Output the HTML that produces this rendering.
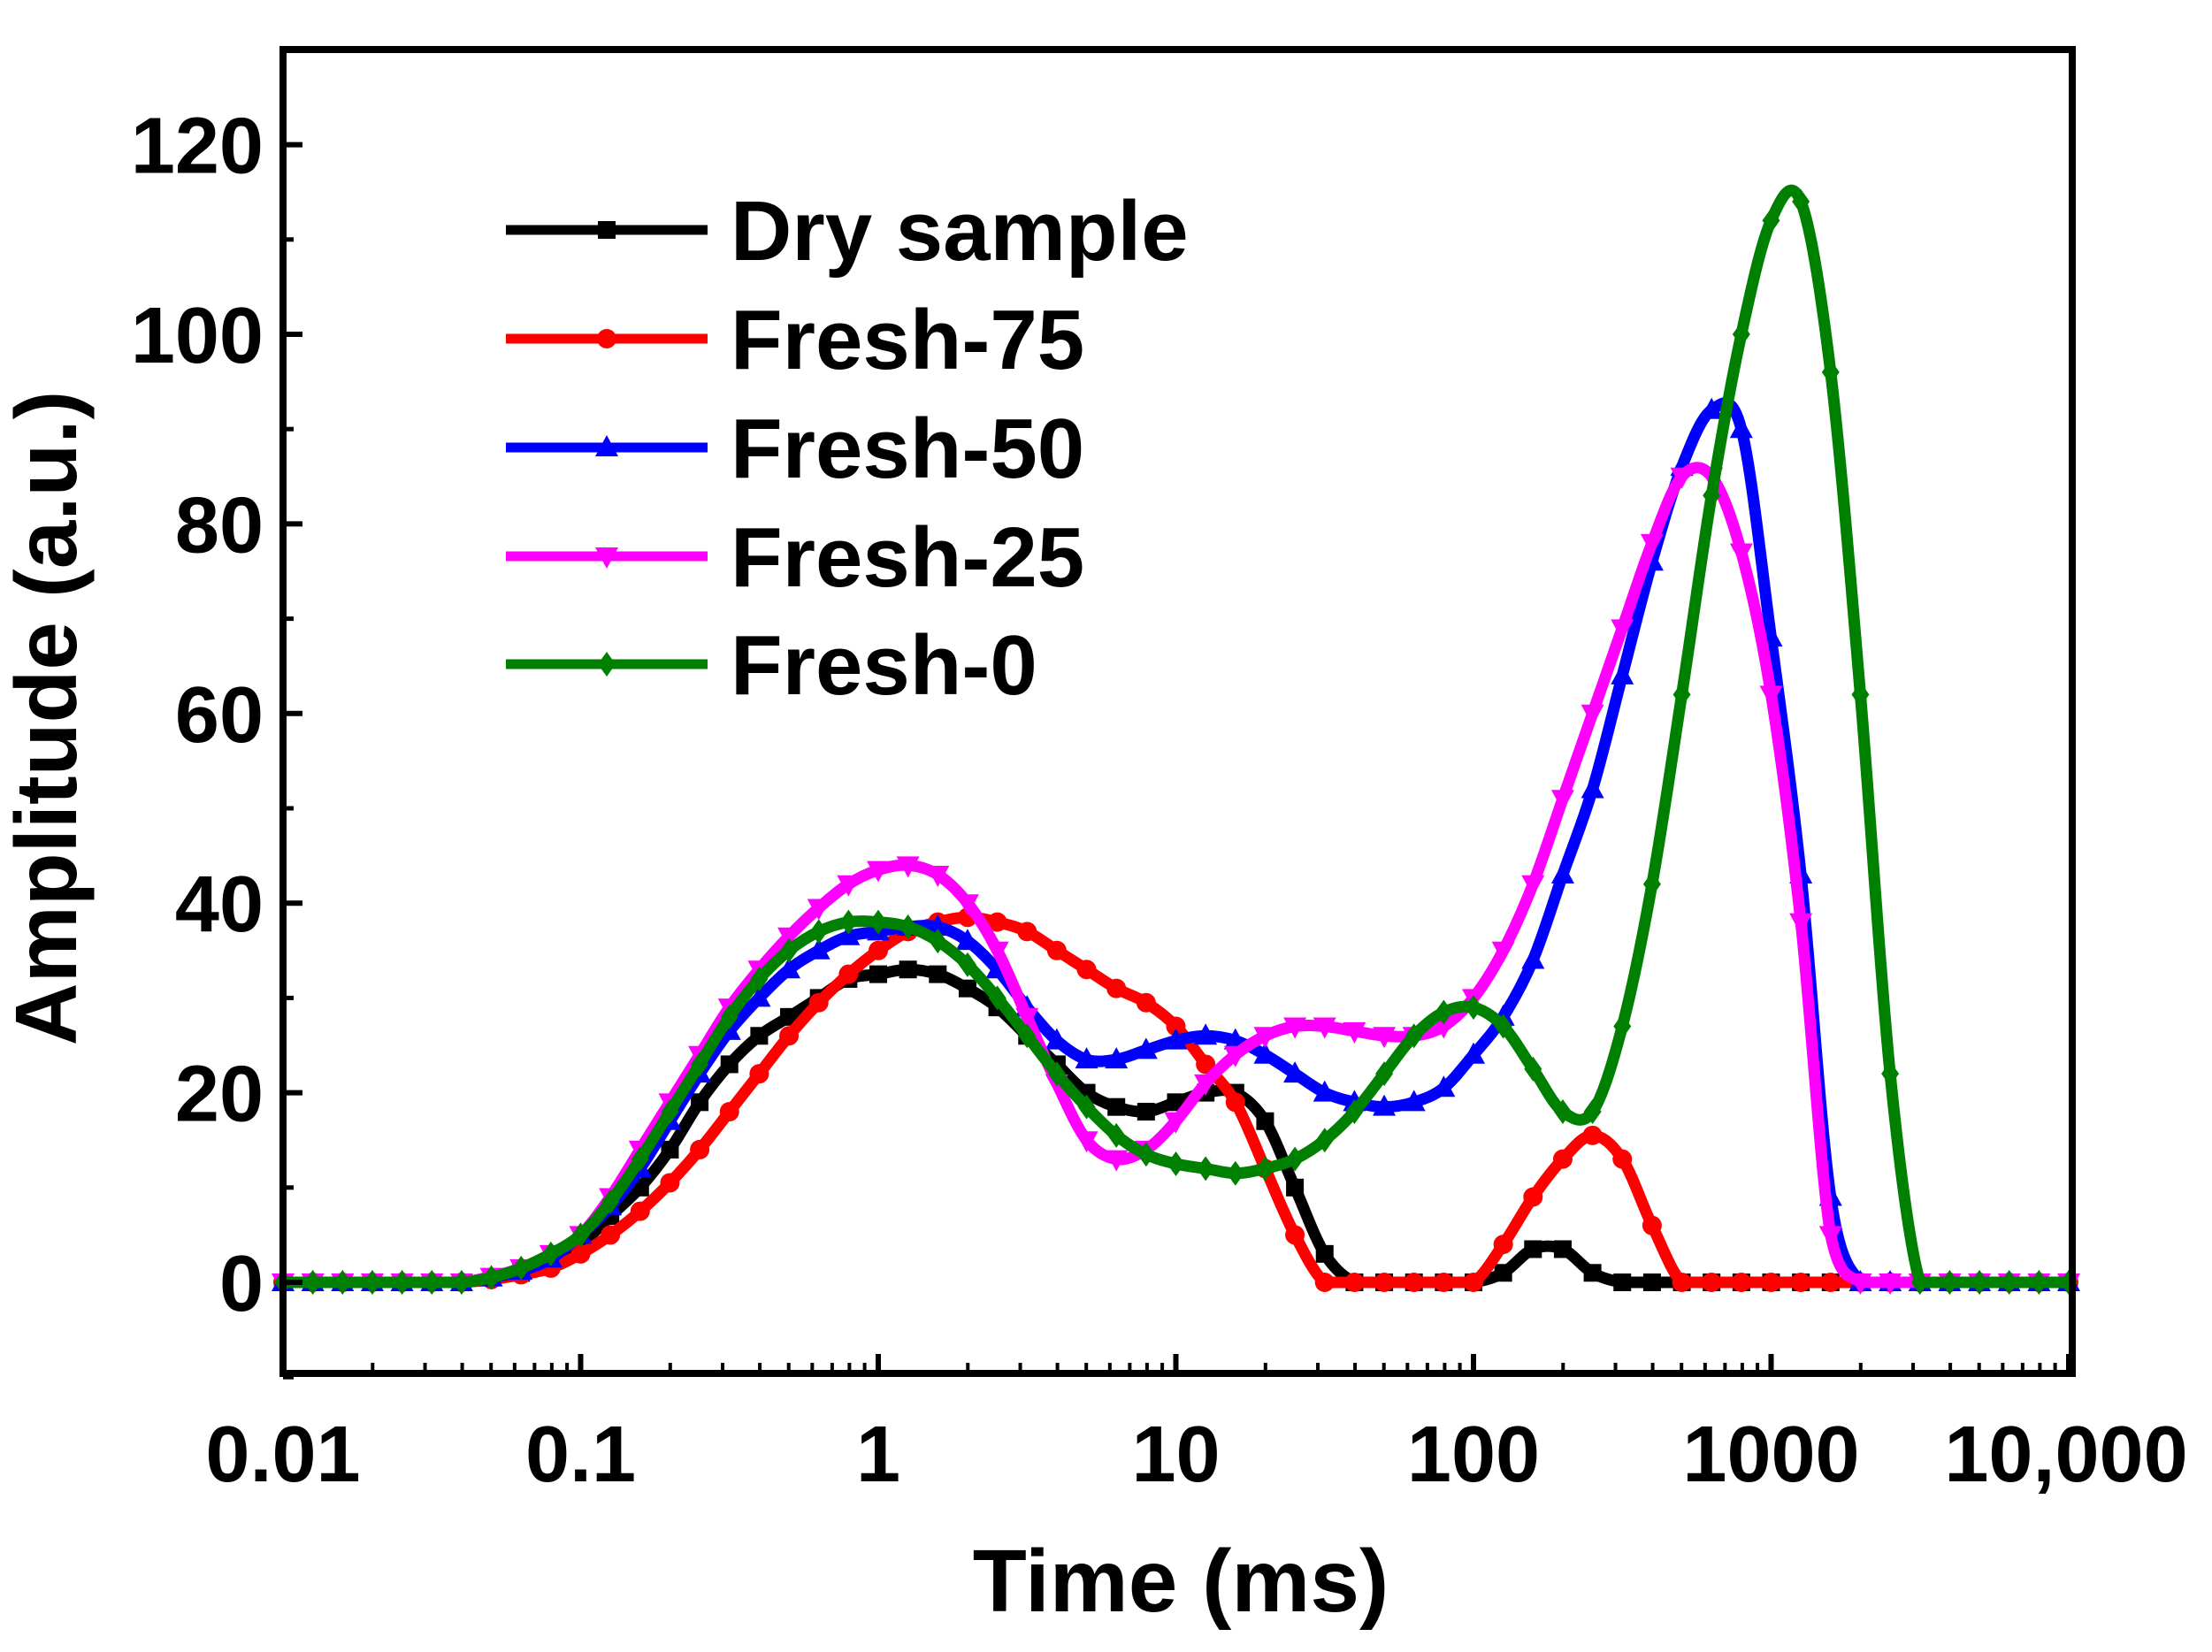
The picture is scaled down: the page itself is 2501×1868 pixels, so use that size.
<!DOCTYPE html>
<html><head><meta charset="utf-8"><style>
html,body{margin:0;padding:0;background:#fff;}
svg{display:block;font-family:"Liberation Sans",Arial,sans-serif;font-weight:bold;}
</style></head><body>
<svg id="chart" width="2501" height="1868" viewBox="0 0 2501 1868" xmlns="http://www.w3.org/2000/svg">
<g id="plot"></g>
<rect x="320" y="56" width="2023" height="1497" fill="none" stroke="#000" stroke-width="8"/>
<g id="axes"></g>
<text x="1335" y="1822" font-size="100" text-anchor="middle">Time (ms)</text>
<text transform="translate(86,812) rotate(-90)" font-size="98" text-anchor="middle">Amplitude (a.u.)</text>
<g id="legend"></g>
</svg>
<script>
const logTimes = [];
for (let i = 0; i <= 60; i++) logTimes.push(-2 + 0.1 * i);
const seriesNames = ["Dry sample","Fresh-75","Fresh-50","Fresh-25","Fresh-0"];
const seriesColors = ["#000000","#ff0000","#0000ff","#ff00ff","#008000"];
const dryValues = [0,0,0,0,0,0,0,0.5,1,2,4,7,10,14,19,23,26,28,30,32,32.5,33,32.5,31,29,26,23,20,18.5,18,19,20,20,17,10,3,0,0,0,0,0,1,3.5,3.5,1,0,0,0,0,0,0,0,0,0,0,0,0,0,0,0,0];
const fresh75Values = [0,0,0,0,0,0,0,0.3,0.8,1.5,3,5,7.5,10.5,14,18,22,26,29.5,32.5,35,37,38,38.5,38,37,35,33,31,29.5,27,23,19,12,5,0,0,0,0,0,0,4,9,13,15.5,13,6,0,0,0,0,0,0,0,0,0,0,0,0,0,0];
const fresh50Values = [0,0,0,0,0,0,0,0.5,1.2,2.5,5,8,12,17,22,26.5,30,33,35,36.5,37,37.5,37.5,36,33,29,25.5,23.5,23.5,24.5,25.5,26,25.5,24,22,20,19,18.5,19,20.5,24,28,34,43,52,64,76,86,92,90,68,43,9,0,0,0,0,0,0,0,0];
const fresh25Values = [0,0,0,0,0,0,0,0.6,1.5,3,5,9,14,19,24,29,33,36.5,39.5,42,43.5,44,43,40,35,28,21,15,13,14,17,21,24,26,27,27,26.5,26,26,27,30,35,42,51,60,69,78,85,85,77,62,38,5,0,0,0,0,0,0,0,0];
const fresh0Values = [0,0,0,0,0,0,0,0.5,1.5,3,5,8.5,13,18,23,28,32,35,37,38,38,37.5,36,33.5,30,26,22,18.5,15.5,13.5,12.5,12,11.5,12,13,15,18,22,26,28.5,29,27,22.5,18,18,27,42,62,83,100,112,114,96,62,22,0,0,0,0,0,0];
const seriesValues = [dryValues,fresh75Values,fresh50Values,fresh25Values,fresh0Values];
const yTicks = [0,20,40,60,80,100,120];
const xTickExps = [-2,-1,0,1,2,3,4];
const xTickLabels = ["0.01","0.1","1","10","100","1000","10,000"];

const L=320,R=2339,T=56,B=1553;
const xs = lg => L + (lg + 2) / 6 * (R - L);
const ys = v => 1450 - v * 10.72;
const NS="http://www.w3.org/2000/svg";
function mk(tag, attrs, parent){const e=document.createElementNS(NS,tag);for(const k in attrs)e.setAttribute(k,attrs[k]);parent.appendChild(e);return e;}
const plot=document.getElementById('plot'), axes=document.getElementById('axes'), legend=document.getElementById('legend');

function marker(type,x,y,color,parent,s){
  let e;
  if(type===0) e=mk('rect',{x:x-s,y:y-s,width:2*s,height:2*s,fill:color},parent);
  else if(type===1) e=mk('circle',{cx:x,cy:y,r:s*1.1,fill:color},parent);
  else if(type===2) e=mk('polygon',{points:`${x},${y-s*1.4} ${x-s*1.3},${y+s} ${x+s*1.3},${y+s}`,fill:color},parent);
  else if(type===3) e=mk('polygon',{points:`${x},${y+s*1.4} ${x-s*1.3},${y-s} ${x+s*1.3},${y-s}`,fill:color},parent);
  else e=mk('polygon',{points:`${x},${y-s*1.4} ${x+s},${y} ${x},${y+s*1.4} ${x-s},${y}`,fill:color},parent);
  return e;
}
function smoothPath(pts){
  let d=`M${pts[0][0]},${pts[0][1]}`;
  for(let i=0;i<pts.length-1;i++){
    const p0=pts[Math.max(i-1,0)],p1=pts[i],p2=pts[i+1],p3=pts[Math.min(i+2,pts.length-1)];
    const c1x=p1[0]+(p2[0]-p0[0])/6,c1y=Math.min(ys(0),p1[1]+(p2[1]-p0[1])/6);
    const c2x=p2[0]-(p3[0]-p1[0])/6,c2y=Math.min(ys(0),p2[1]-(p3[1]-p1[1])/6);
    d+=` C${c1x},${c1y} ${c2x},${c2y} ${p2[0]},${p2[1]}`;
  }
  return d;
}
seriesValues.forEach((vals,si)=>{
  const g=mk('g',{},plot);
  
  
  const pts=vals.map((v,i)=>[xs(logTimes[i]),ys(v)]);
  const p=mk('path',{d:smoothPath(pts),fill:'none',stroke:seriesColors[si],'stroke-width':13,'stroke-linejoin':'round'},g);
  
  
  pts.forEach(pt=>{
    const m=marker(si,pt[0],pt[1],seriesColors[si],g,10);
    
    
  });
});
yTicks.forEach(v=>{
  const y=ys(v);
  const t=mk('line',{x1:L,x2:L+22,y1:y,y2:y,stroke:'#000','stroke-width':6},axes);
  
  
  const lb=mk('text',{x:L-22,y:y+32,'font-size':90,'text-anchor':'end'},axes);
  lb.textContent=v;
  
  
});
for(let v=-10;v<=130;v+=10){ if(v%20===0) continue;
  const y=ys(v);
  const t=mk('line',{x1:L,x2:L+12,y1:y,y2:y,stroke:'#000','stroke-width':5},axes);
  
  
}
xTickExps.forEach((e,i)=>{
  const x=xs(e);
  const t=mk('line',{x1:x,x2:x,y1:B,y2:B-22,stroke:'#000','stroke-width':6},axes);
  
  
  const lb=mk('text',{x:e===4?x-3:x,y:B+122,'font-size':90,'text-anchor':'middle'},axes);
  lb.textContent=xTickLabels[i];
  
  
  if(e<4) for(let k=2;k<=9;k++){
    const xm=xs(e+Math.log10(k));
    const m=mk('line',{x1:xm,x2:xm,y1:B,y2:B-12,stroke:'#000','stroke-width':4},axes);
    
    
  }
});
const legY=[260,383,506,629,751];
seriesNames.forEach((n,i)=>{
  const g=mk('g',{},legend);
  
  
  mk('line',{x1:572,x2:800,y1:legY[i],y2:legY[i],stroke:seriesColors[i],'stroke-width':11},g);
  marker(i,686,legY[i],seriesColors[i],g,10);
  const tx=mk('text',{x:826,y:legY[i]+34,'font-size':96},g);
  tx.textContent=n;
  
  
});
</script>
</body></html>
